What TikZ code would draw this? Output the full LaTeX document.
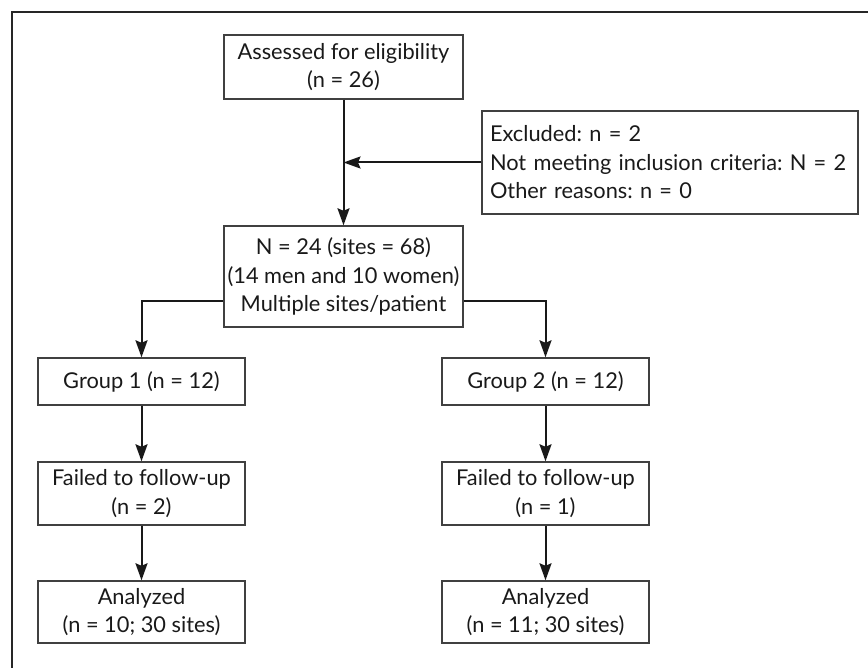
\documentclass[tikz,border=0pt]{standalone}
\usepackage{fontspec}
\setmainfont{Lato}
\usetikzlibrary{arrows.meta}
\usetikzlibrary{positioning}
\frenchspacing

\begin{document}
\begin{tikzpicture}[x=1pt,y=-1pt,
        box/.style={draw=black!75,line width=1.4pt,align=center,inner sep=0pt,
            font=\fontsize{21.8}{28.5}\selectfont,text=black!90},
        arr/.style={line width=2pt,black!90,-{Stealth[length=17pt,width=12pt,inset=2.5pt]}}]
        \useasboundingbox (0,0) rectangle (868,668);
        \draw[line width=2.4pt,black!85] (12,668) -- (12,12) -- (868,12);

        \node[box,minimum width=239pt,minimum height=64pt] (assess) at (343.5,67)
            {Assessed for eligibility\\(n = 26)};
        \node[box,minimum width=376pt,minimum height=103pt,align=left,text width=360pt,inner xsep=8pt] (excl) at (670,162.5)
            {Excluded: n = 2\\Not meeting inclusion criteria: N = 2\\Other reasons: n = 0};
        \node[box,minimum width=239pt,minimum height=101pt] (total) at (343.5,276.5)
            {N = 24 (sites = 68)\\(14 men and 10 women)\\Multiple sites/patient};

        \node[box,minimum width=207pt,minimum height=47pt] (g1) at (141.5,381.5) {Group 1 (n = 12)};
        \node[box,minimum width=207pt,minimum height=47pt] (g2) at (545.5,381.5) {Group 2 (n = 12)};
        \node[box,minimum width=207pt,minimum height=63pt] (f1) at (141.5,493.5) {Failed to follow-up\\(n = 2)};
        \node[box,minimum width=207pt,minimum height=63pt] (f2) at (545.5,493.5) {Failed to follow-up\\(n = 1)};
        \node[box,minimum width=207pt,minimum height=62pt] (a1) at (141.5,612) {Analyzed\\(n = 10; 30 sites)};
        \node[box,minimum width=207pt,minimum height=62pt] (a2) at (545.5,612) {Analyzed\\(n = 11; 30 sites)};

        \coordinate (join) at (assess.south |- excl.west);
        \draw[arr] (assess) -- (total);
        \draw[arr] (excl.west) -- (join);
        \draw[arr] ([yshift=-24.5pt]total.west) -| (g1.north);
        \draw[arr] ([yshift=-24.5pt]total.east) -| (g2.north);
        \draw[arr] (g1) -- (f1);
        \draw[arr] (g2) -- (f2);
        \draw[arr] (f1) -- (a1);
        \draw[arr] (f2) -- (a2);
    \end{tikzpicture}
\end{document}
